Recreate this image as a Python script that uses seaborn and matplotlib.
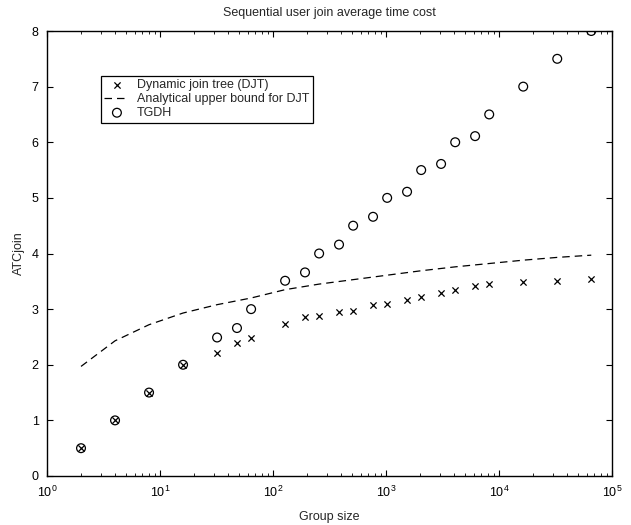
import numpy as np
import pandas as pd
import matplotlib
matplotlib.use("Agg")
import matplotlib.pyplot as plt
import seaborn as sns

# 数据
group_size = [2, 4, 8, 16, 32, 48, 64, 128, 192, 256, 384, 512, 768, 1024,
              1536, 2048, 3072, 4096, 6144, 8192, 16384, 32768, 65536]
djt_cost = [0.5, 1.0, 1.5, 2.0, 2.22, 2.40, 2.48, 2.73, 2.85, 2.88, 2.94, 2.97,
            3.07, 3.10, 3.17, 3.21, 3.29, 3.35, 3.42, 3.45, 3.48, 3.51, 3.55]
tgdh_cost = [0.5, 1.0, 1.5, 2.0, 2.49, 2.66, 3.0, 3.51, 3.66, 4.0, 4.16, 4.5,
             4.66, 5.0, 5.11, 5.5, 5.61, 6.0, 6.11, 6.5, 7.0, 7.5, 8.0]

bound_size = [2, 4, 8, 16, 32, 64, 128, 256, 512, 1024, 2048, 4096, 8192,
              16384, 32768, 65536]
bound_cost = [1.97, 2.43, 2.72, 2.93, 3.08, 3.20, 3.35, 3.45, 3.53, 3.61,
              3.69, 3.76, 3.82, 3.88, 3.93, 3.97]

sns.set_style("ticks")
plt.rcParams['font.family'] = ['Liberation Sans', 'DejaVu Sans']
plt.rcParams['font.size'] = 9

fig = plt.figure(figsize=(6.31, 5.25), dpi=100)
ax = fig.add_axes([47 / 631, 49 / 525, 565 / 631, 445 / 525])

sns.scatterplot(x=group_size, y=djt_cost, marker='x', s=20, color='black',
                linewidth=0.9, label='Dynamic join tree (DJT)', ax=ax, zorder=3)
sns.lineplot(x=bound_size, y=bound_cost, color='black', linewidth=0.9,
             linestyle=(0, (6, 4)), label='Analytical upper bound for DJT', ax=ax)
sns.scatterplot(x=group_size, y=tgdh_cost, marker='o', s=40, facecolor='none',
                edgecolor='black', linewidth=0.9, label='TGDH', ax=ax, zorder=3)

ax.set_xscale('log')
ax.set_xlim(1, 1e5)
ax.set_ylim(0, 8)
ax.set_yticks(range(0, 9))
ax.set_xticks([1, 10, 100, 1000, 10000, 100000])

for s in ax.spines.values():
    s.set_visible(True)
    s.set_linewidth(1.0)
    s.set_color('black')
ax.tick_params(which='both', direction='in', top=True, right=True,
               colors='black', labelsize=9)
ax.tick_params(which='major', length=4, width=0.8)
ax.tick_params(which='minor', length=2.5, width=0.6)
ax.tick_params(axis='x', pad=6)
ax.tick_params(axis='y', pad=6)

ax.set_title('Sequential user join average time cost', fontsize=9, pad=11)
ax.set_xlabel('Group size', fontsize=9, labelpad=8)
ax.set_ylabel('ATCjoin', fontsize=9, labelpad=5)

# 图例（按原图顺序）
handles, labels = ax.get_legend_handles_labels()
order = ['Dynamic join tree (DJT)', 'Analytical upper bound for DJT', 'TGDH']
hmap = dict(zip(labels, handles))
leg = ax.legend([hmap[l] for l in order], order, loc='upper left',
                bbox_to_anchor=(0.095, 0.9), fontsize=9, frameon=True,
                fancybox=False, edgecolor='black', framealpha=1,
                handlelength=2.0, handletextpad=0.6, borderpad=0.3,
                labelspacing=0.15, borderaxespad=0)
leg.get_frame().set_linewidth(0.9)

fig.savefig('out.png', dpi=100)
